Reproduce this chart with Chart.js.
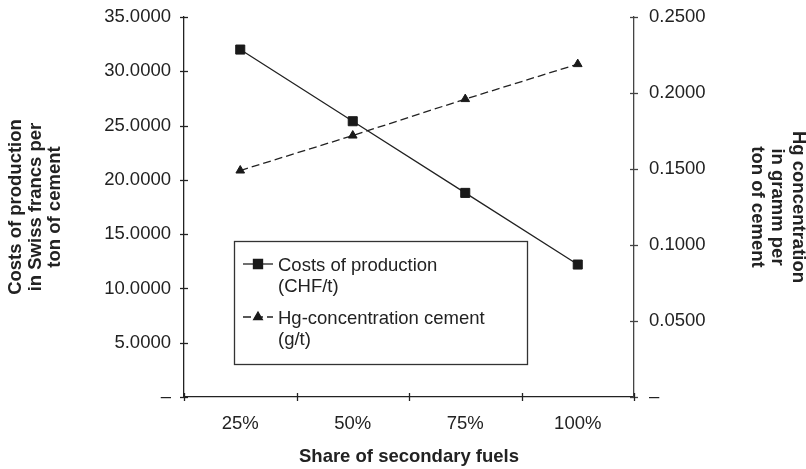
<!DOCTYPE html>
<html>
<head>
<meta charset="utf-8">
<script src="https://cdn.jsdelivr.net/npm/chart.js@4/dist/chart.umd.min.js"></script>
<style>
  html, body { margin: 0; padding: 0; background: #fff; }
  #wrap { width: 806px; height: 469px; }
</style>
</head>
<body>
<div id="wrap"><canvas id="c" width="806" height="469"></canvas></div>
<script>
// Share of secondary fuels in the kiln fuel mix
const shares = ['25%', '50%', '75%', '100%'];
// Costs of production, CHF per ton of cement
const costsCHF = [32.0, 25.4, 18.8, 12.2];
// Hg concentration in cement, g per ton
const hgConcentration = [0.149, 0.172, 0.196, 0.219];

// Axis ranges and steps
const costAxis = { min: 0, max: 35, step: 5 };
const hgAxis = { min: 0, max: 0.25, step: 0.05 };

const FONT = "'Liberation Sans', Arial, Helvetica, sans-serif";
const FS = 18.5;
const INK = '#222';

// Fixed axis box sizes; label overhang is not reserved at top/bottom
const fixWidth = w => s => { s.width = w; s.paddingTop = 0; s.paddingBottom = 0; };

// Tick marks that cross the axis lines on both sides
const crossTicks = {
  id: 'crossTicks',
  afterDraw(chart) {
    const ctx = chart.ctx;
    const half = 4;
    ctx.save();
    ctx.lineWidth = 1.3;
    const y = chart.scales.y, y2 = chart.scales.y2, x = chart.scales.x;
    ctx.strokeStyle = '#222';
    y.ticks.forEach((t, i) => {
      const py = Math.round(y.getPixelForTick(i)) + 0.5;
      ctx.beginPath(); ctx.moveTo(y.right - half, py); ctx.lineTo(y.right + half, py); ctx.stroke();
    });
    ctx.strokeStyle = '#444';
    y2.ticks.forEach((t, i) => {
      const py = Math.round(y2.getPixelForTick(i)) + 0.5;
      ctx.beginPath(); ctx.moveTo(y2.left - half, py); ctx.lineTo(y2.left + half, py); ctx.stroke();
    });
    ctx.strokeStyle = '#222';
    const n = x.ticks.length;
    const gap = n > 1 ? (x.getPixelForTick(1) - x.getPixelForTick(0)) : x.width;
    for (let i = 0; i <= n; i++) {
      const px = Math.round(x.getPixelForTick(0) - gap / 2 + i * gap) + 0.5;
      ctx.beginPath(); ctx.moveTo(px, x.top - half); ctx.lineTo(px, x.top + half); ctx.stroke();
    }
    ctx.restore();
  }
};

// Boxed legend inside the plot area with two-line entries
const boxedLegend = {
  id: 'boxedLegend',
  afterDraw(chart) {
    const ctx = chart.ctx;
    const ca = chart.chartArea;
    const left = ca.left + 50, top = ca.top + 224, w = 293, h = 123;
    ctx.save();
    ctx.fillStyle = '#fff';
    ctx.fillRect(left, top, w, h);
    ctx.strokeStyle = '#333';
    ctx.lineWidth = 1.3;
    ctx.strokeRect(left + 0.5, top + 0.5, w, h);

    const rows = [
      { ds: chart.data.datasets[0], sampleY: top + 23, lines: ['Costs of production', '(CHF/t)'], textY: top + 25 },
      { ds: chart.data.datasets[1], sampleY: top + 76, lines: ['Hg-concentration cement', '(g/t)'], textY: top + 78 }
    ];
    rows.forEach(r => {
      const x0 = left + 9, x1 = left + 39;
      ctx.strokeStyle = r.ds.borderColor;
      ctx.lineWidth = r.ds.borderWidth;
      ctx.setLineDash(r.ds.borderDash || []);
      ctx.beginPath(); ctx.moveTo(x0, r.sampleY); ctx.lineTo(x1, r.sampleY); ctx.stroke();
      ctx.setLineDash([]);
      const pt = { pointStyle: r.ds.pointStyle, radius: r.ds.pointRadius, borderWidth: 1 };
      ctx.fillStyle = r.ds.pointBackgroundColor;
      ctx.strokeStyle = r.ds.pointBorderColor;
      Chart.helpers.drawPoint(ctx, pt, (x0 + x1) / 2, r.sampleY);
      ctx.fillStyle = INK;
      ctx.font = FS + 'px ' + FONT;
      ctx.textBaseline = 'middle';
      ctx.textAlign = 'left';
      r.lines.forEach((t, i) => ctx.fillText(t, left + 44, r.textY + i * 21));
    });
    ctx.restore();
  }
};

new Chart(document.getElementById('c'), {
  type: 'line',
  data: {
    labels: shares,
    datasets: [
      {
        label: 'Costs of production (CHF/t)',
        data: costsCHF,
        yAxisID: 'y',
        borderColor: '#222',
        borderWidth: 1.3,
        pointStyle: 'rect',
        pointRadius: 6.4,
        pointBackgroundColor: '#1a1a1a',
        pointBorderColor: '#1a1a1a',
        pointBorderWidth: 1,
        tension: 0,
        fill: false
      },
      {
        label: 'Hg-concentration cement (g/t)',
        data: hgConcentration,
        yAxisID: 'y2',
        borderColor: '#222',
        borderWidth: 1.3,
        borderDash: [8, 4],
        pointStyle: 'triangle',
        pointRadius: 5,
        pointBackgroundColor: '#1a1a1a',
        pointBorderColor: '#1a1a1a',
        pointBorderWidth: 1,
        tension: 0,
        fill: false
      }
    ]
  },
  options: {
    responsive: false,
    devicePixelRatio: 1,
    animation: false,
    layout: { padding: { top: 17, left: 0, right: 0, bottom: 0 } },
    plugins: {
      legend: { display: false },
      tooltip: { enabled: false }
    },
    scales: {
      x: {
        type: 'category',
        offset: true,
        grid: { display: false, drawTicks: false },
        border: { display: true, color: '#222', width: 1.3 },
        ticks: { padding: 16, color: INK, font: { family: FONT, size: FS } },
        title: {
          display: true,
          text: 'Share of secondary fuels',
          color: INK,
          font: { family: FONT, size: FS, weight: 'bold', lineHeight: 1.1 },
          padding: { top: 0, bottom: 2 }
        },
        afterFit: s => { s.height = 72; }
      },
      y: {
        position: 'left',
        min: costAxis.min,
        max: costAxis.max,
        grid: { display: false, drawTicks: false },
        border: { display: true, color: '#222', width: 1.3 },
        ticks: {
          stepSize: costAxis.step,
          padding: 13,
          color: INK,
          font: { family: FONT, size: FS },
          callback: v => (v === 0 ? '\u2013' : Number(v).toFixed(4))
        },
        title: {
          display: true,
          text: ['Costs of production', 'in Swiss francs per', 'ton of cement'],
          color: INK,
          font: { family: FONT, size: FS, weight: 'bold', lineHeight: 1.06 },
          padding: { top: 6, bottom: 0 }
        },
        afterFit: fixWidth(184)
      },
      y2: {
        position: 'right',
        min: hgAxis.min,
        max: hgAxis.max,
        grid: { display: false, drawTicks: false },
        border: { display: true, color: '#444', width: 1.3 },
        ticks: {
          stepSize: hgAxis.step,
          padding: 15,
          color: INK,
          font: { family: FONT, size: FS },
          callback: v => (Math.abs(v) < 1e-9 ? '\u2013' : Number(v).toFixed(4))
        },
        title: {
          display: true,
          text: ['Hg concentration', 'in gramm per', 'ton of cement'],
          color: INK,
          font: { family: FONT, size: FS, weight: 'bold', lineHeight: 1.1 },
          padding: { top: -2, bottom: 0 }
        },
        afterFit: fixWidth(172)
      }
    }
  },
  plugins: [crossTicks, boxedLegend]
});
</script>
</body>
</html>
